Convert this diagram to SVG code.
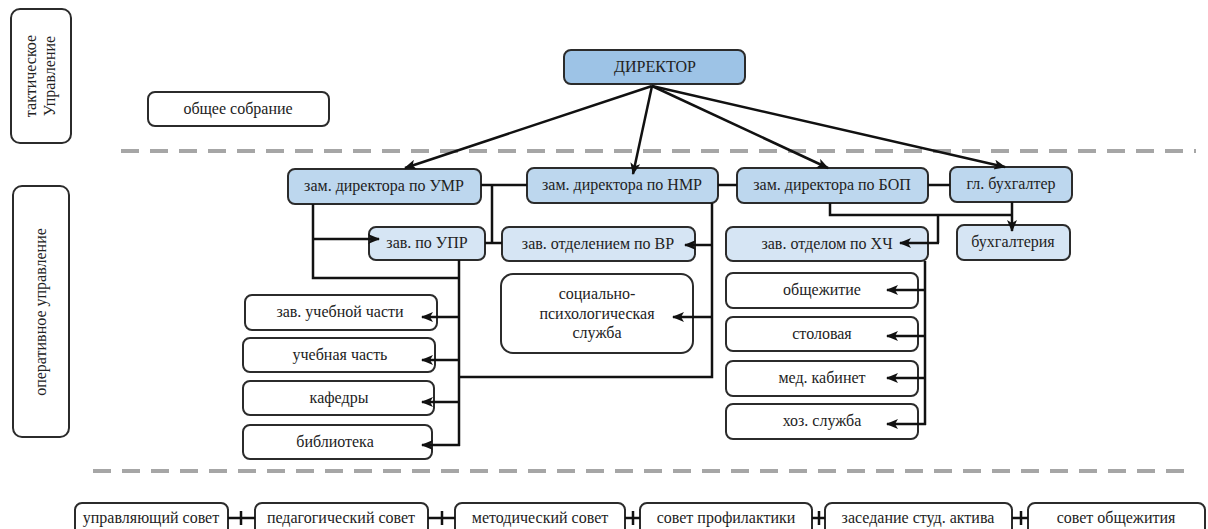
<svg xmlns="http://www.w3.org/2000/svg" width="1208" height="529" viewBox="0 0 1208 529" font-family="Liberation Serif">
<defs>
<style>
.b{stroke:#2b2b2b;stroke-width:2;}
.w{fill:#ffffff;}
.d{fill:#9dc3e6;}
.z{fill:#bdd7ee;}
.v{fill:#d6e5f4;}
.c{fill:none;stroke:#111;stroke-width:2.5;}
.a{marker-end:url(#arr);}
.dash{stroke:#a6a6a6;stroke-width:4;stroke-dasharray:18 11;fill:none;}
</style>
<marker id="arr" markerUnits="userSpaceOnUse" markerWidth="12" markerHeight="10" refX="11" refY="5" orient="auto">
<path d="M0,0 L12,5 L0,10 L3,5 z" fill="#111"/>
</marker>
</defs>
<rect width="1208" height="529" fill="#ffffff"/>

<line class="dash" x1="121" y1="151" x2="1196" y2="151"/>
<line class="dash" x1="93" y1="471" x2="1190" y2="471"/>

<g font-family="Liberation Serif" font-size="16" fill="#222" text-anchor="middle">
<g id="n-tact"><rect class="b w" x="11" y="9" width="60" height="134" rx="9"/>
<g transform="translate(41,76) rotate(-90)"><text x="0" y="-5">тактическое</text><text x="0" y="14">Управление</text></g></g>
<g id="n-oper"><rect class="b w" x="13" y="186" width="56" height="251" rx="9"/>
<text transform="translate(41,312) rotate(-90)" x="0" y="5">оперативное управление</text></g>

<g id="n-director"><rect class="b d" x="564" y="50" width="181" height="34" rx="7"/><text x="655" y="72">ДИРЕКТОР</text></g>
<g id="n-obshee"><rect class="b w" x="148" y="92" width="181" height="34" rx="7"/><text x="238" y="114">общее собрание</text></g>

<g id="n-umr"><rect class="b z" x="288" y="169" width="193" height="35" rx="7"/><text x="384" y="191">зам. директора по УМР</text></g>
<g id="n-nmr"><rect class="b z" x="527" y="168" width="191" height="35" rx="7"/><text x="622" y="190">зам. директора по НМР</text></g>
<g id="n-bop"><rect class="b z" x="737" y="168" width="191" height="35" rx="7"/><text x="832" y="190">зам. директора по БОП</text></g>
<g id="n-glbuh"><rect class="b z" x="950" y="167" width="122" height="35" rx="7"/><text x="1011" y="189">гл. бухгалтер</text></g>

<g id="n-upr"><rect class="b v" x="369" y="227" width="116" height="33" rx="7"/><text x="427" y="248">зав. по УПР</text></g>
<g id="n-vr"><rect class="b v" x="502" y="227" width="193" height="34" rx="7"/><text x="598" y="249">зав. отделением по ВР</text></g>
<g id="n-hch"><rect class="b v" x="726" y="227" width="202" height="34" rx="7"/><text x="827" y="249">зав. отделом по ХЧ</text></g>
<g id="n-buh"><rect class="b v" x="957" y="225" width="113" height="35" rx="7"/><text x="1013" y="247">бухгалтерия</text></g>

<g id="n-zuch"><rect class="b w" x="245" y="295" width="192" height="35" rx="7"/><text x="340" y="317">зав. учебной части</text></g>
<g id="n-uch"><rect class="b w" x="243" y="338" width="192" height="34" rx="7"/><text x="340" y="360">учебная часть</text></g>
<g id="n-kaf"><rect class="b w" x="243" y="381" width="191" height="34" rx="7"/><text x="339" y="403">кафедры</text></g>
<g id="n-bib"><rect class="b w" x="243" y="425" width="189" height="34" rx="7"/><text x="335" y="447">библиотека</text></g>

<g id="n-soc"><rect class="b w" x="501" y="274" width="192" height="79" rx="12"/>
<text x="597" y="299">социально-</text><text x="597" y="319">психологическая</text><text x="597" y="338">служба</text></g>

<g id="n-obsh"><rect class="b w" x="726" y="273" width="192" height="35" rx="7"/><text x="822" y="295">общежитие</text></g>
<g id="n-stol"><rect class="b w" x="726" y="317" width="192" height="34" rx="7"/><text x="822" y="339">столовая</text></g>
<g id="n-med"><rect class="b w" x="726" y="361" width="192" height="35" rx="7"/><text x="822" y="383">мед. кабинет</text></g>
<g id="n-hoz"><rect class="b w" x="726" y="404" width="192" height="35" rx="7"/><text x="822" y="426">хоз. служба</text></g>

<g id="n-ups"><rect class="b w" x="75" y="503" width="153" height="40" rx="7"/><text x="151" y="523">управляющий совет</text></g>
<g id="n-peds"><rect class="b w" x="255" y="503" width="173" height="40" rx="7"/><text x="341" y="523">педагогический совет</text></g>
<g id="n-mets"><rect class="b w" x="455" y="503" width="170" height="40" rx="7"/><text x="540" y="523">методический совет</text></g>
<g id="n-prof"><rect class="b w" x="640" y="503" width="172" height="40" rx="7"/><text x="726" y="523">совет профилактики</text></g>
<g id="n-zas"><rect class="b w" x="825" y="503" width="187" height="40" rx="7"/><text x="918" y="523">заседание студ. актива</text></g>
<g id="n-obs"><rect class="b w" x="1028" y="503" width="177" height="40" rx="7"/><text x="1116" y="523">совет общежития</text></g>
</g>

<g id="connectors">
<path class="c a" d="M652,86 L405,168"/>
<path class="c a" d="M652,86 L633,174"/>
<path class="c a" d="M652,86 L828,168"/>
<path class="c a" d="M652,86 L1005,167"/>
<path class="c" d="M481,185 H527 M718,185 H737 M928,185 H950"/>
<path class="c" d="M492,185 V243 M485,243 H502"/>
<path class="c" d="M313,204 V278 H460"/>
<path class="c a" d="M313,239 H379"/>
<path class="c" d="M459,260 V446"/>
<path class="c a" d="M459,317 H422"/>
<path class="c a" d="M459,360 H422"/>
<path class="c a" d="M459,402 H422"/>
<path class="c a" d="M460,445 H422"/>
<path class="c" d="M712,203 V377 H459"/>
<path class="c a" d="M712,245 H685"/>
<path class="c a" d="M712,317 H673"/>
<path class="c" d="M830,203 V215 H1012"/>
<path class="c a" d="M1012,202 V231"/>
<path class="c" d="M938,215 V243"/>
<path class="c a" d="M939,243 H900"/>
<path class="c" d="M925,261 V425"/>
<path class="c a" d="M925,290 H887"/>
<path class="c a" d="M925,336 H887"/>
<path class="c a" d="M925,378 H887"/>
<path class="c a" d="M926,424 H887"/>
<path class="c" d="M228,518 H255 M241,511 V525 M428,518 H455 M442,511 V525 M625,518 H640 M633,511 V525 M812,518 H825 M819,511 V525 M1012,518 H1028 M1021,511 V525"/>
</g>
</svg>
